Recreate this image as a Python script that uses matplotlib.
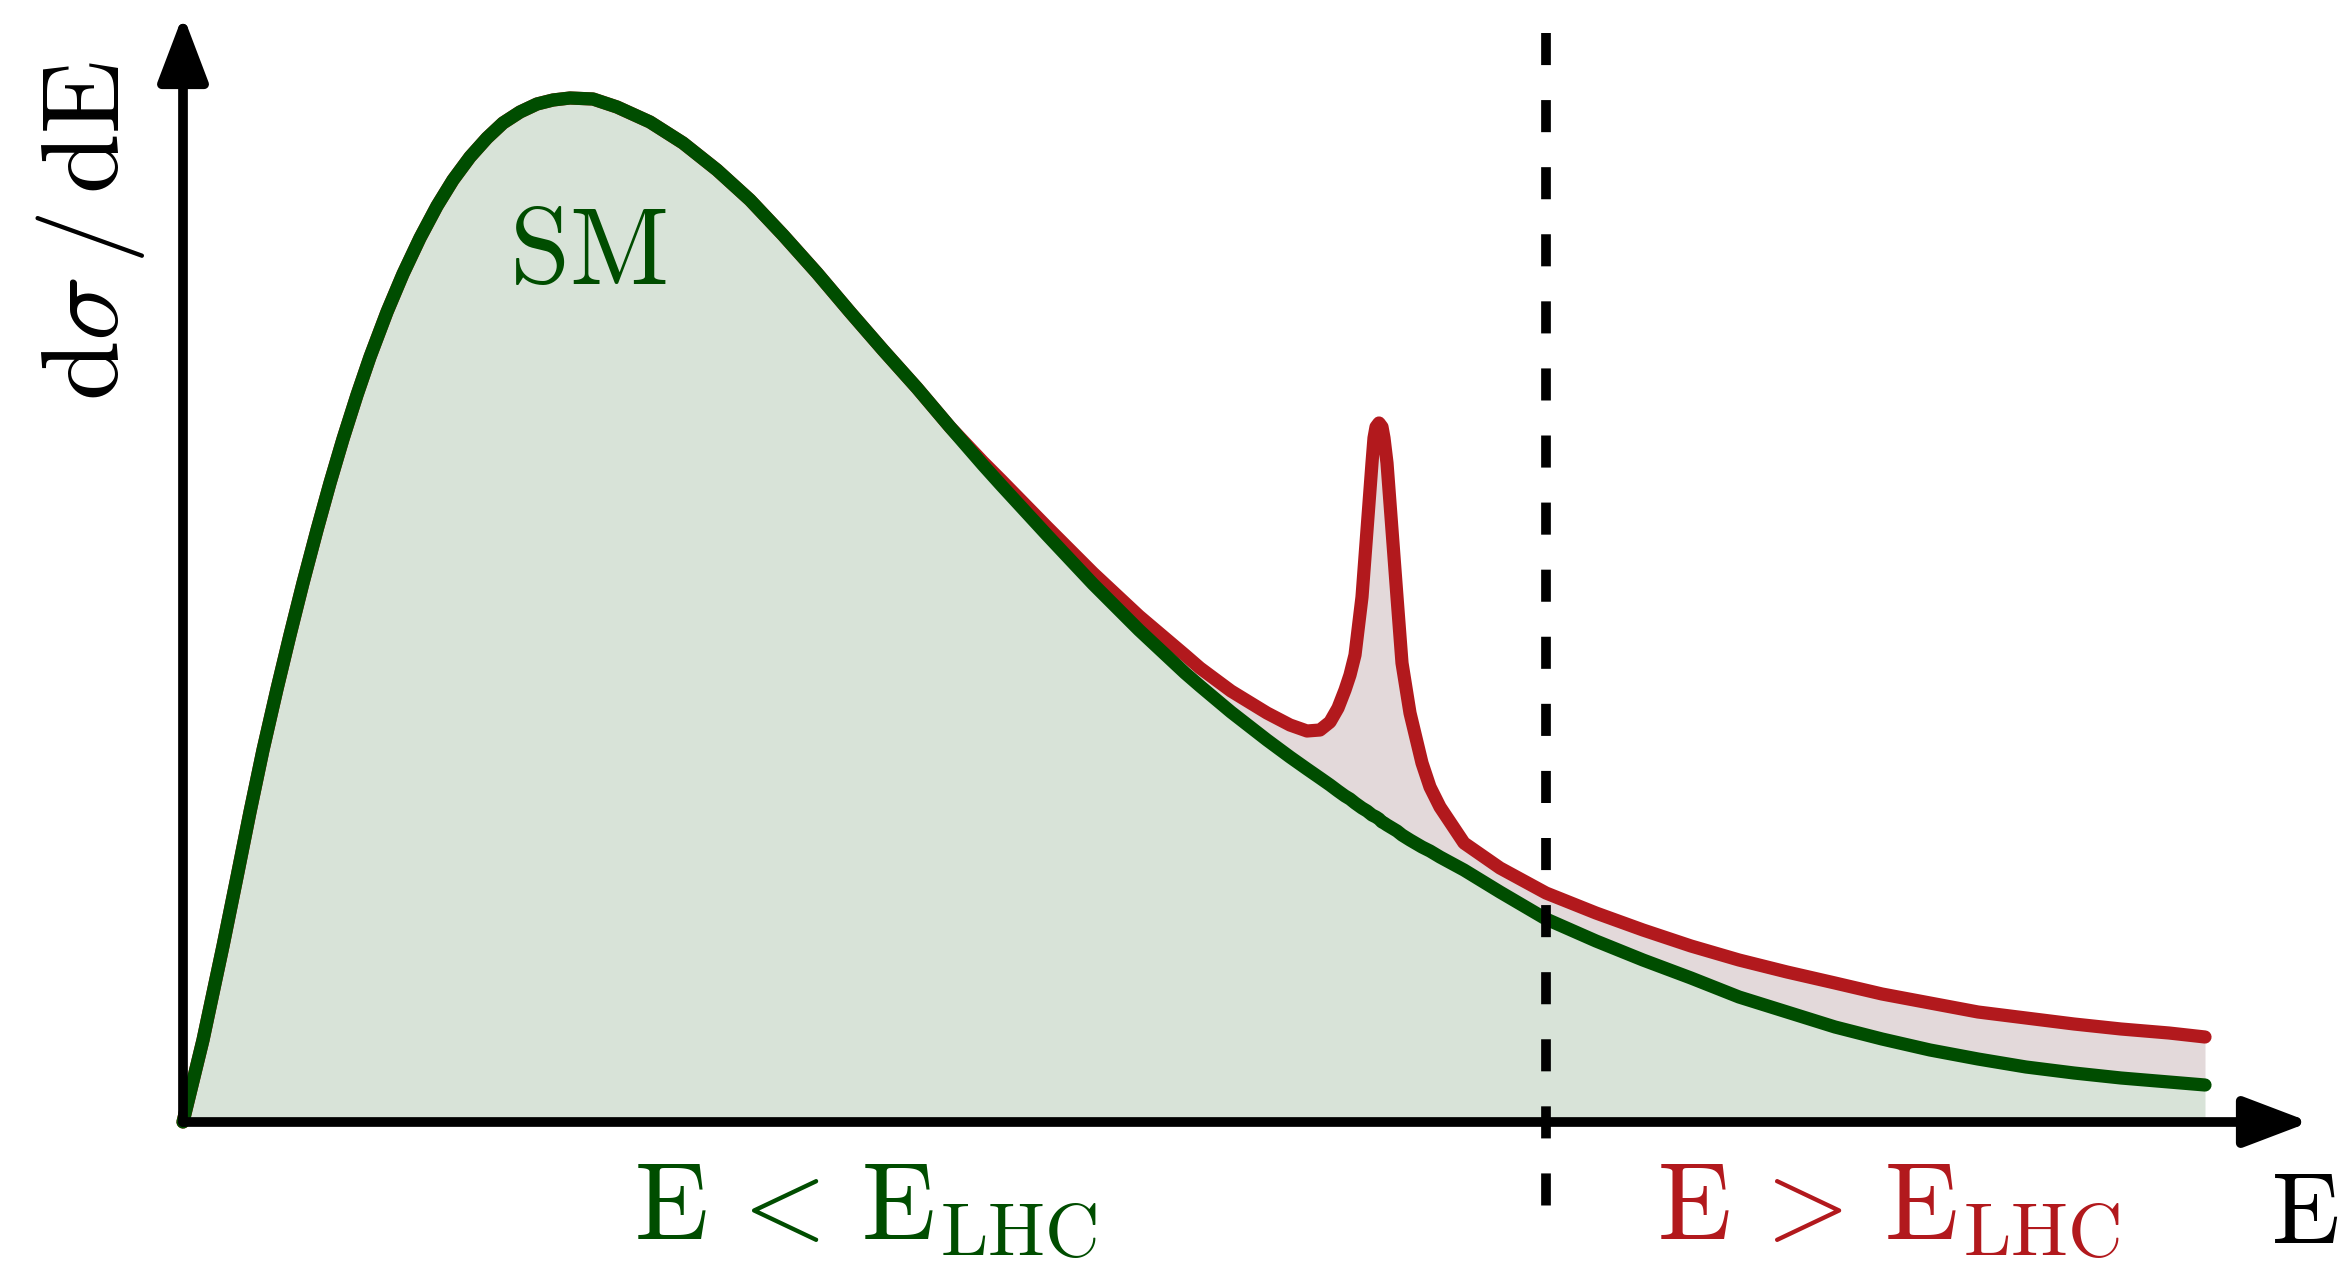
import matplotlib
matplotlib.use("Agg")
import matplotlib.pyplot as plt
import numpy as np

plt.rcParams['mathtext.fontset'] = 'cm'

# energy grid (arbitrary units) and the two spectra
energy = np.array([0.00, 0.20, 0.40, 0.54, 0.67, 0.80, 0.94, 1.07, 1.20, 1.34,
                   1.47, 1.60, 1.74, 1.87, 2.04, 2.20, 2.37, 2.54, 2.70, 2.87,
                   3.04, 3.20, 3.37, 3.54, 3.70, 3.87, 4.10, 4.34, 4.67, 5.00,
                   5.34, 5.67, 6.00, 6.34, 6.67, 7.00, 7.34, 7.67, 8.00, 8.18,
                   8.64, 9.10, 9.56, 10.02, 10.17, 10.48, 10.84, 11.07, 11.24, 11.37,
                   11.47, 11.55, 11.62, 11.67, 11.72, 11.79, 11.84, 11.89, 11.91, 11.93,
                   11.96, 11.99, 12.01, 12.04, 12.09, 12.14, 12.19, 12.27, 12.39, 12.47,
                   12.57, 12.81, 13.17, 13.63, 14.13, 14.60, 15.08, 15.56, 16.04, 16.52,
                   16.99, 17.47, 17.95, 18.43, 18.91, 19.38, 19.86, 20.22])
sm = np.array([0.00, 0.82, 1.76, 2.45, 3.10, 3.72, 4.33, 4.87, 5.39, 5.92,
               6.39, 6.83, 7.27, 7.65, 8.10, 8.48, 8.84, 9.16, 9.42, 9.65,
               9.84, 9.99, 10.10, 10.18, 10.22, 10.24, 10.23, 10.15, 10.00, 9.79,
               9.52, 9.22, 8.87, 8.49, 8.10, 7.72, 7.34, 6.95, 6.57, 6.37,
               5.87, 5.38, 4.92, 4.49, 4.36, 4.10, 3.82, 3.65, 3.53, 3.44,
               3.37, 3.31, 3.26, 3.23, 3.19, 3.14, 3.11, 3.07, 3.06, 3.05,
               3.03, 3.00, 2.99, 2.97, 2.94, 2.91, 2.87, 2.82, 2.75, 2.71,
               2.65, 2.52, 2.30, 2.03, 1.81, 1.62, 1.44, 1.25, 1.10, 0.95,
               0.83, 0.72, 0.63, 0.55, 0.49, 0.44, 0.40, 0.37])
bsm = np.array([0.00, 0.82, 1.76, 2.45, 3.10, 3.72, 4.33, 4.87, 5.39, 5.92,
                6.39, 6.83, 7.27, 7.65, 8.10, 8.48, 8.84, 9.16, 9.42, 9.65,
                9.84, 9.99, 10.10, 10.18, 10.22, 10.24, 10.23, 10.15, 10.00, 9.79,
                9.52, 9.22, 8.87, 8.49, 8.10, 7.72, 7.34, 6.95, 6.60, 6.42,
                5.95, 5.49, 5.06, 4.67, 4.54, 4.31, 4.09, 3.97, 3.91, 3.92,
                4.00, 4.14, 4.32, 4.47, 4.67, 5.25, 5.92, 6.59, 6.84, 6.95,
                6.99, 6.95, 6.84, 6.59, 5.92, 5.25, 4.59, 4.09, 3.59, 3.35,
                3.15, 2.79, 2.54, 2.29, 2.09, 1.92, 1.76, 1.62, 1.50, 1.39,
                1.28, 1.19, 1.10, 1.04, 0.98, 0.93, 0.89, 0.85])
e_lhc = 13.63

green = '#004d00'
green_fill = '#d8e3d8'
red = '#b2191d'
red_fill = '#e3d9da'
fs = 78

fig = plt.figure(figsize=(23.52, 12.66), dpi=100)
ax = fig.add_axes([0, 0, 1, 1])
ax.set_xlim(-1.83, 21.69)
ax.set_ylim(-1.44, 11.22)
ax.axis('off')

# shaded areas
ax.fill_between(energy, 0, sm, color=green_fill, lw=0, zorder=1)
ax.fill_between(energy, sm, bsm, where=bsm >= sm, interpolate=True,
                color=red_fill, lw=0, zorder=1)

# curves
ax.plot(energy, bsm, color=red, lw=9.5, solid_capstyle='round',
        solid_joinstyle='round', zorder=2)
ax.plot(energy, sm, color=green, lw=9.5, solid_capstyle='round',
        solid_joinstyle='round', zorder=3)

# LHC reach
ax.plot([e_lhc, e_lhc], [10.89, -0.85], color='black', lw=7,
        dashes=(3.3, 3.6), zorder=4)

# axes with arrow heads
arrow = dict(arrowstyle='-|>,head_length=1.0,head_width=0.38', lw=7,
             color='black', mutation_scale=40, shrinkA=0, shrinkB=0)
ax.annotate('', xy=(0, 11.07), xytext=(0, 0), arrowprops=arrow, zorder=5)
ax.annotate('', xy=(21.27, 0), xytext=(0, 0), arrowprops=arrow, zorder=5)

# labels
ax.text(4.05, 8.39, r'$\mathrm{SM}$', color=green, fontsize=fs,
        ha='center', va='baseline', zorder=6)
ax.text(4.51, -1.18, r'$\mathrm{E}\,<\,\mathrm{E}_{\mathrm{LHC}}$', color=green,
        fontsize=fs, ha='left', va='baseline')
ax.text(14.74, -1.18, r'$\mathrm{E}\,>\,\mathrm{E}_{\mathrm{LHC}}$', color=red,
        fontsize=fs, ha='left', va='baseline')
ax.text(20.88, -1.20, r'$\mathrm{E}$', color='black', fontsize=72,
        ha='left', va='baseline')
ax.text(-0.65, 8.91, r'$\mathrm{d}\sigma\,/\,\mathrm{dE}$', color='black',
        fontsize=fs, rotation=90, rotation_mode='anchor',
        ha='center', va='baseline')

fig.savefig('out.png', dpi=100)
